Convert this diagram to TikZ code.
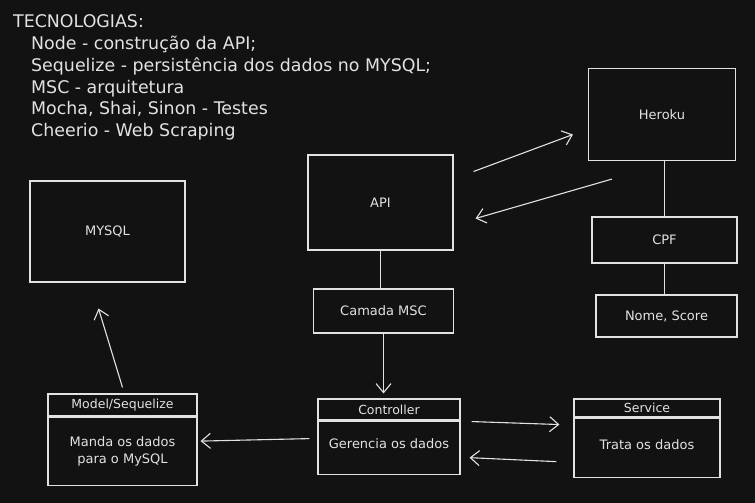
\documentclass[tikz,border=0pt]{standalone}
\usepackage{fontspec}
\setmainfont{DejaVu Sans}
\usetikzlibrary{arrows,arrows.meta,positioning}
\definecolor{bg}{HTML}{121212}
\definecolor{chalk}{HTML}{E2E2E2}

\begin{document}
\begin{tikzpicture}[x=1pt, y=-1pt,
    box/.style={draw=chalk, line width=1.1pt, text=chalk, inner sep=0pt, font=\fontsize{13}{17}\selectfont},
    head/.style={box, font=\fontsize{12.5}{14}\selectfont},
    link/.style={draw=chalk, line width=1.1pt},
    arr/.style={link, -{Straight Barb[length=9pt, width=15pt]}}]

      \fill[bg] (0, 0) rectangle (755, 503);
      \useasboundingbox (0, 0) rectangle (755, 503);

      \node[text=chalk, anchor=north west, align=left, inner sep=0pt, font=\fontsize{17.4}{21.8}\selectfont] (tech) at (13, 14.5)
        {TECNOLOGIAS:\\
        \hspace*{18pt}Node - construção da API;\\
        \hspace*{18pt}Sequelize - persistência dos dados no MYSQL;\\
        \hspace*{18pt}MSC - arquitetura\\
        \hspace*{18pt}Mocha, Shai, Sinon - Testes\\
        \hspace*{18pt}Cheerio - Web Scraping};

      \node[box, minimum width=155, minimum height=101] (mysql) at (107.5, 231.5) {MYSQL};
      \node[box, minimum width=145, minimum height=95] (api) at (380.5, 202.5) {API};
      \node[box, minimum width=140, minimum height=44] (msc) at (383.5, 311) {Camada MSC};
      \node[box, minimum width=147, minimum height=92] (heroku) at (662, 114.5) {Heroku};
      \node[box, minimum width=145, minimum height=46] (cpf) at (664.5, 240) {CPF};
      \node[box, minimum width=141, minimum height=42] (score) at (666.5, 316) {Nome, Score};

      \node[head, minimum width=149, minimum height=22] (modelh) at (122.5, 405) {Model/Sequelize};
      \node[box, minimum width=149, minimum height=68, below=0pt of modelh, align=center] (model) {Manda os dados\\para o MySQL};
      \node[head, minimum width=142, minimum height=21] (ctrlh) at (389, 409.5) {Controller};
      \node[box, minimum width=142, minimum height=53, below=0pt of ctrlh, text depth=8pt] (ctrl) {Gerencia os dados};
      \node[head, minimum width=146, minimum height=18] (srvh) at (647, 408) {Service};
      \node[box, minimum width=146, minimum height=59, below=0pt of srvh, text depth=6pt] (srv) {Trata os dados};

      \draw[link] (api.south) -- (api.south |- msc.north);
      \draw[link] (heroku.south -| cpf) -- (cpf.north);
      \draw[link] (cpf.south) -- (score.north -| cpf);

      \draw[arr] ([shift={(20,-31)}]api.east) -- ([shift={(-15,20)}]heroku.west);
      \draw[arr] ([shift={(-50,18)}]heroku.south) -- ([shift={(22,16)}]api.east);
      \draw[arr, shorten >=5pt] (msc.south) -- (msc.south |- ctrlh.north);
      \draw[arr] ([shift={(11,1)}]ctrl.north east) -- ([shift={(-14,7)}]srv.north west);
      \draw[arr] ([shift={(-17,-16)}]srv.south west) -- ([shift={(9,-17)}]ctrl.south east);
      \draw[arr] ([shift={(-8,-9)}]ctrl.west) -- ([shift={(3,-10)}]model.east);
      \draw[arr] ([yshift=6pt]modelh.north) -- ([shift={(-9,26)}]mysql.south);

\end{tikzpicture}
\end{document}
